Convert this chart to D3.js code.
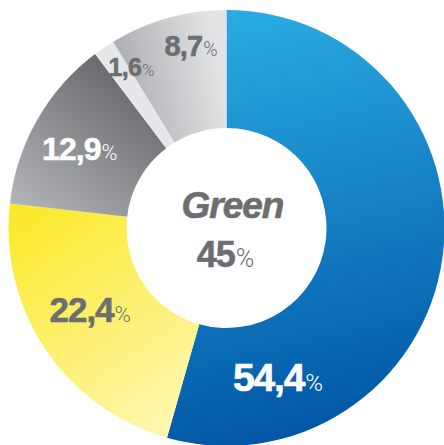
<!DOCTYPE html>
<html>
<head>
<meta charset="utf-8">
<script src="https://cdn.jsdelivr.net/npm/d3@7"></script>
<style>
  html, body { margin: 0; padding: 0; background: #fff; }
  svg { display: block; }
</style>
</head>
<body>
<svg id="chart" width="444" height="445"></svg>
<script>
// Share of each category, clockwise from 12 o'clock
const categories = ["blue", "yellow", "darkgray", "pale", "lightgray"];
const values = [54.4, 22.4, 12.9, 1.6, 8.7];
const centerTitle = "Green";
const centerValue = 45;

// Gradient stops per slice: [start colour, end colour]
const sliceColors = [
  ["#2aace3", "#0054a4"],
  ["#fbe927", "#fff7b6"],
  ["#67686b", "#b4b5b8"],
  ["#e6e7e8", "#e6e7e8"],
  ["#a4a6a9", "#e2e3e5"]
];
// Gradient direction per slice, in unit coordinates of the outer radius
const gradientVectors = [
  [[0.0, -1.0], [0.45, 0.98]],
  [[-0.98, -0.08], [-0.25, 0.98]],
  [[-0.45, -0.72], [-0.95, -0.08]],
  [[0, 0], [1, 0]],
  [[-0.52, -0.45], [0.0, -0.55]]
];
const textColors = ["#ffffff", "#6d6e71", "#ffffff", "#6d6e71", "#6d6e71"];
// Label placement: angle (deg, clockwise from top) and radius
const labelAngles = [161, 239, 298.5, 329.5, 349];
const labelRadii = [158, 159, 167, 187, 186];
const numberSizes = [39, 35, 32, 25, 29];
const percentSizes = [24, 22, 21.5, 17, 19.5];

const W = 444, H = 445;
const cx = 226.5, cy = 228;
const outerR = 218, innerR = 100;

const svg = d3.select("#chart");
const defs = svg.append("defs");

// Gradients live in the slice group's coordinates (origin at the ring centre)
sliceColors.forEach((c, i) => {
  const [p0, p1] = gradientVectors[i];
  const g = defs.append("linearGradient")
    .attr("id", "grad-" + categories[i])
    .attr("gradientUnits", "userSpaceOnUse")
    .attr("x1", p0[0] * outerR).attr("y1", p0[1] * outerR)
    .attr("x2", p1[0] * outerR).attr("y2", p1[1] * outerR);
  g.append("stop").attr("offset", "0%").attr("stop-color", c[0]);
  g.append("stop").attr("offset", "100%").attr("stop-color", c[1]);
});

const pie = d3.pie().sort(null).value(d => d).startAngle(0).endAngle(2 * Math.PI);
const arc = d3.arc().innerRadius(innerR).outerRadius(outerR);

const g = svg.append("g").attr("transform", `translate(${cx},${cy})`);

g.selectAll("path.slice")
  .data(pie(values))
  .join("path")
  .attr("class", "slice")
  .attr("d", arc)
  .attr("fill", (d, i) => `url(#grad-${categories[i]})`);

const fmt = v => String(v).replace(".", ",");
const numFont = "'Liberation Sans', Arial, Helvetica, sans-serif";
const pctFont = "Roboto, 'Liberation Sans', Arial, sans-serif";

// Slice value labels
values.forEach((v, i) => {
  const a = labelAngles[i] * Math.PI / 180;
  const x = cx + labelRadii[i] * Math.sin(a);
  const y = cy - labelRadii[i] * Math.cos(a) + numberSizes[i] * 0.36;
  const t = svg.append("text")
    .attr("x", x).attr("y", y)
    .attr("text-anchor", "middle")
    .attr("fill", textColors[i]);
  t.append("tspan")
    .attr("font-family", numFont)
    .attr("font-weight", 700)
    .attr("font-size", numberSizes[i])
    .attr("letter-spacing", -numberSizes[i] * 0.03)
    .attr("stroke", textColors[i])
    .attr("stroke-width", 0.6)
    .text(fmt(v));
  t.append("tspan")
    .attr("font-family", pctFont)
    .attr("font-weight", 300)
    .attr("font-size", percentSizes[i])
    .attr("dx", 1)
    .text("%");
});

// Centre text
svg.append("text")
  .attr("x", cx + 6).attr("y", 218)
  .attr("text-anchor", "middle")
  .attr("fill", "#6d6e71")
  .attr("stroke", "#6d6e71")
  .attr("stroke-width", 0.6)
  .attr("font-family", numFont)
  .attr("font-weight", 700)
  .attr("font-style", "italic")
  .attr("font-size", 37)
  .attr("letter-spacing", -1)
  .text(centerTitle);

const ct = svg.append("text")
  .attr("x", cx - 1).attr("y", 267)
  .attr("text-anchor", "middle")
  .attr("fill", "#6d6e71");
ct.append("tspan")
  .attr("font-family", numFont)
  .attr("font-weight", 700)
  .attr("font-size", 36)
  .attr("letter-spacing", -1)
  .attr("stroke", "#6d6e71")
  .attr("stroke-width", 0.6)
  .text(centerValue);
ct.append("tspan")
  .attr("font-family", pctFont)
  .attr("font-weight", 300)
  .attr("font-size", 25)
  .attr("dx", 1)
  .text("%");
</script>
</body>
</html>
